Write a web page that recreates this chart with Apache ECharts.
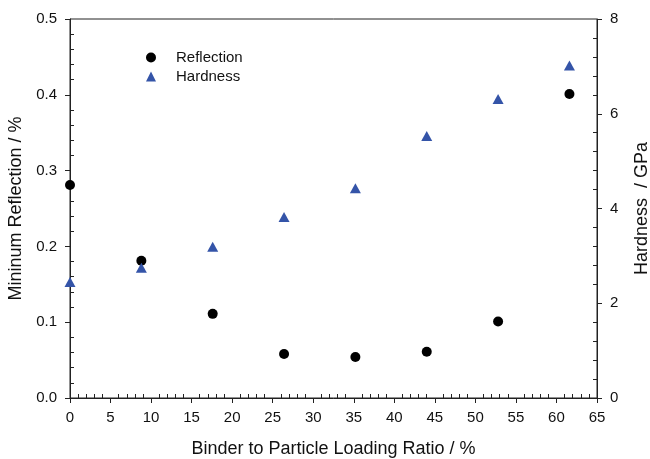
<!DOCTYPE html>
<html>
<head>
<meta charset="utf-8">
<script src="https://cdn.jsdelivr.net/npm/echarts@6/dist/echarts.min.js"></script>
<style>
  html, body { margin: 0; padding: 0; background: #fff; }
  #chart { width: 650px; height: 459px; }
</style>
</head>
<body>
<div id="chart"></div>
<script>
// 数据
const loadingRatio = [0, 8.8, 17.6, 26.4, 35.2, 44, 52.8, 61.6];
const reflection = [0.281, 0.181, 0.111, 0.058, 0.054, 0.061, 0.101, 0.401];
const hardness = [2.45, 2.75, 3.19, 3.82, 4.43, 5.53, 6.31, 7.02];

const pairs = (xs, ys) => xs.map((x, i) => [x, ys[i]]);

const font = 'Liberation Sans, Arial, sans-serif';
const axisColor = '#222';

let dom = document.getElementById('chart');
let chart = echarts.init(dom, null, { renderer: 'canvas' });

chart.setOption({
  animation: false,
  backgroundColor: '#fff',
  textStyle: { fontFamily: font },
  grid: {
    left: 70, right: 53, top: 19, bottom: 61,
    containLabel: false,
    outerBoundsMode: 'none',
    show: true, borderColor: axisColor, borderWidth: 1
  },
  legend: {
    orient: 'vertical',
    left: 141, top: 45,
    itemGap: 4,
    itemWidth: 10, itemHeight: 10,
    textStyle: { fontFamily: font, fontSize: 15, color: '#111', padding: [0, 0, 0, 15] },
    data: ['Reflection', 'Hardness']
  },
  xAxis: {
    type: 'value',
    min: 0, max: 65, interval: 5,
    name: 'Binder to Particle Loading Ratio / %',
    nameLocation: 'middle', nameGap: 42,
    nameTextStyle: { fontSize: 18, color: '#111' },
    axisLine: { onZero: false, lineStyle: { color: axisColor } },
    axisTick: { length: 5, lineStyle: { color: axisColor } },
    minorTick: { show: true, splitNumber: 5, length: -4, lineStyle: { color: axisColor } },
    axisLabel: { fontSize: 15, color: '#111', margin: 12 },
    splitLine: { show: false }
  },
  yAxis: [
    {
      type: 'value',
      min: 0, max: 0.5, interval: 0.1,
      name: 'Mininum Reflection / %',
      nameLocation: 'middle', nameGap: 44,
      nameTextStyle: { fontSize: 18, color: '#111' },
      axisLine: { show: true, onZero: false, lineStyle: { color: axisColor } },
      axisTick: { show: true, length: 5, lineStyle: { color: axisColor } },
      minorTick: { show: true, splitNumber: 5, length: -4, lineStyle: { color: axisColor } },
      axisLabel: { fontSize: 15, color: '#111', margin: 13, formatter: v => v.toFixed(1) },
      splitLine: { show: false }
    },
    {
      type: 'value',
      position: 'right',
      min: 0, max: 8, interval: 2,
      name: 'Hardness  / GPa',
      nameLocation: 'middle', nameGap: 36,
      nameTextStyle: { fontSize: 18, color: '#111' },
      axisLine: { show: true, onZero: false, lineStyle: { color: axisColor } },
      axisTick: { show: true, length: 5, lineStyle: { color: axisColor } },
      minorTick: { show: true, splitNumber: 5, length: -4, lineStyle: { color: axisColor } },
      axisLabel: { fontSize: 15, color: '#111', margin: 13 },
      splitLine: { show: false }
    }
  ],
  series: [
    {
      name: 'Reflection',
      type: 'scatter',
      yAxisIndex: 0,
      symbol: 'circle',
      symbolSize: 10,
      itemStyle: { color: '#000', opacity: 1 },
      data: pairs(loadingRatio, reflection)
    },
    {
      name: 'Hardness',
      type: 'scatter',
      yAxisIndex: 1,
      symbol: 'triangle',
      symbolSize: [11, 10],
      itemStyle: { color: '#3454a8', opacity: 1 },
      data: pairs(loadingRatio, hardness)
    }
  ]
});
</script>
</body>
</html>
